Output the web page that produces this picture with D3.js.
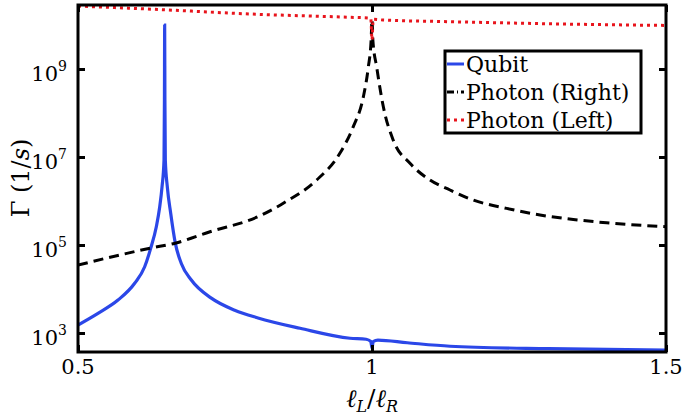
<!DOCTYPE html>
<html>
<head>
<meta charset="utf-8">
<script src="https://cdnjs.cloudflare.com/ajax/libs/d3/7.8.5/d3.min.js"></script>
<style>
  body { margin: 0; background: #fff; }
  svg text { fill: #000; }
</style>
</head>
<body>
<div id="chart"></div>
<script>
// ratio l_L / l_R and decay rates (1/s)
const qubitX = [0.5, 0.534, 0.568, 0.5964, 0.6134, 0.6236, 0.6332, 0.639, 0.6429, 0.6463, 0.647, 0.6474,
    0.6478, 0.6485, 0.6519, 0.6577, 0.6655, 0.6757, 0.6927, 0.7267, 0.7665, 0.8061, 0.8776, 0.9626,
    0.99, 0.998, 1.0, 1.002, 1.01, 1.06, 1.1327, 1.3, 1.5];
const qubitG = [1.52e3, 2.8e3, 5.6e3, 1.35e4, 3.2e4, 8.4e4, 2.6e5, 7.4e5, 2.1e6, 8.5e6, 2e8, 1e10,
    2e8, 8.5e6, 2.1e6, 5.2e5, 1.1e5, 3.8e4, 1.6e4, 6.2e3, 3.3e3, 2.2e3, 1.28e3, 760,
    720, 640, 450, 640, 690, 600, 500, 440, 410];

const photonRightX = [0.5, 0.6236, 0.665, 0.7245, 0.8061, 0.8491, 0.906, 0.9456, 0.9682, 0.9852, 0.9937,
    0.9985, 1.0, 1.0015, 1.008, 1.0192, 1.0362, 1.0646, 1.0986, 1.1327, 1.1723, 1.229, 1.2857, 1.3423,
    1.399, 1.5];
const photonRightG = [3.5e4, 8.5e4, 1.1e5, 2.0e5, 4.4e5, 8.9e5, 3.0e6, 1.23e7, 4.9e7, 2.3e8, 1.1e9,
    4.5e9, 1.3e10, 4.5e9, 1.1e9, 1.4e8, 2.4e7, 7.2e6, 3.0e6, 1.78e6, 1.05e6, 6.8e5, 4.8e5, 3.8e5,
    3.2e5, 2.6e5];

const photonLeftX = [0.5, 0.653, 0.7925, 0.9626, 0.993, 0.998, 1.0, 1.002, 1.0187, 1.1327, 1.44, 1.5];
const photonLeftG = [2.7e10, 2.2e10, 1.78e10, 1.5e10, 1.45e10, 1.4e10, 4.6e9, 1.35e10, 1.3e10, 1.19e10, 1.0e10, 9.8e9];

const xTicks = [0.5, 1, 1.5];
const xTickLabels = ["0.5", "1", "1.5"];
const yTickExps = [3, 5, 7, 9];

const legendNames = ["Qubit", "Photon (Right)", "Photon (Left)"];

const W = 685, H = 416;
const margin = { left: 78, right: 19, top: 5, bottom: 64 };
const serif = '"DejaVu Serif", serif';

const svg = d3.select("#chart").append("svg")
    .attr("width", W)
    .attr("height", H)
    .attr("font-family", serif);

const x = d3.scaleLinear().domain([0.5, 1.5]).range([margin.left, W - margin.right]);
const y = d3.scaleLog().domain([Math.pow(10, 2.568), Math.pow(10, 10.455)]).range([H - margin.bottom, margin.top]);

svg.append("defs").append("clipPath").attr("id", "plot")
    .append("rect")
    .attr("x", margin.left).attr("y", margin.top)
    .attr("width", W - margin.left - margin.right)
    .attr("height", H - margin.top - margin.bottom);

const series = [
    { xs: qubitX, gs: qubitG, color: "#2b47e8", dash: null, width: 3.2 },
    { xs: photonRightX, gs: photonRightG, color: "#000", dash: "10,6", width: 3 },
    { xs: photonLeftX, gs: photonLeftG, color: "#e8141c", dash: "3,4", width: 3 }
];

const line = d3.line()
    .x(d => x(d[0]))
    .y(d => y(d[1]))
    .curve(d3.curveMonotoneX);

const g = svg.append("g").attr("clip-path", "url(#plot)");
series.forEach(s => {
    g.append("path")
        .datum(s.xs.map((v, i) => [v, s.gs[i]]))
        .attr("fill", "none")
        .attr("stroke", s.color)
        .attr("stroke-width", s.width)
        .attr("stroke-dasharray", s.dash)
        .attr("d", line);
});

// axes: ticks inside on all four sides
const yTickVals = yTickExps.map(e => Math.pow(10, e));
svg.append("g")
    .attr("transform", "translate(" + margin.left + ",0)")
    .call(d3.axisRight(y).tickValues(yTickVals).tickSize(7).tickFormat(""));
svg.append("g")
    .attr("transform", "translate(" + (W - margin.right) + ",0)")
    .call(d3.axisLeft(y).tickValues(yTickVals).tickSize(7).tickFormat(""));
svg.append("g")
    .attr("transform", "translate(0," + (H - margin.bottom) + ")")
    .call(d3.axisTop(x).tickValues(xTicks).tickSize(7).tickFormat(""));
svg.append("g")
    .attr("transform", "translate(0," + margin.top + ")")
    .call(d3.axisBottom(x).tickValues(xTicks).tickSize(7).tickFormat(""));
svg.selectAll(".domain").remove();
svg.selectAll(".tick line").attr("stroke", "#000").attr("stroke-width", 3);

svg.append("rect")
    .attr("x", margin.left).attr("y", margin.top)
    .attr("width", W - margin.left - margin.right)
    .attr("height", H - margin.top - margin.bottom)
    .attr("fill", "none")
    .attr("stroke", "#000")
    .attr("stroke-width", 3);

// tick labels
xTicks.forEach((t, i) => {
    svg.append("text")
        .attr("x", x(t))
        .attr("y", H - margin.bottom + 22)
        .attr("text-anchor", "middle")
        .attr("font-family", serif)
        .style("font-size", "21px")
        .text(xTickLabels[i]);
});
yTickExps.forEach(e => {
    const t = svg.append("text")
        .attr("x", 67)
        .attr("y", y(Math.pow(10, e)) + 12)
        .attr("text-anchor", "end")
        .attr("font-family", serif)
        .style("font-size", "21px");
    t.append("tspan").text("10");
    t.append("tspan").attr("dy", -10).style("font-size", "14px").text(e);
});

// axis titles
const xl = svg.append("text")
    .attr("x", x(1))
    .attr("y", 407)
    .attr("text-anchor", "middle")
    .attr("font-family", serif)
    .style("font-size", "25px");
xl.append("tspan").style("font-style", "italic").text("ℓ");
xl.append("tspan").attr("dy", 5).style("font-size", "16px").style("font-style", "italic").text("L");
xl.append("tspan").attr("dy", -5).text("/");
xl.append("tspan").style("font-style", "italic").text("ℓ");
xl.append("tspan").attr("dy", 5).style("font-size", "16px").style("font-style", "italic").text("R");

const yl = svg.append("text")
    .attr("transform", "translate(29," + 178 + ") rotate(-90)")
    .attr("text-anchor", "middle")
    .attr("font-family", serif)
    .style("font-size", "24px");
yl.append("tspan").text("Γ (1/");
yl.append("tspan").style("font-style", "italic").text("s");
yl.append("tspan").text(")");

// legend
const lg = svg.append("g");
lg.append("rect")
    .attr("x", 445).attr("y", 51)
    .attr("width", 196).attr("height", 82)
    .attr("fill", "#fff")
    .attr("stroke", "#000")
    .attr("stroke-width", 3);
legendNames.forEach((name, i) => {
    const cy = 64 + i * 28;
    lg.append("line")
        .attr("x1", 447).attr("x2", 464)
        .attr("y1", cy).attr("y2", cy)
        .attr("stroke", series[i].color)
        .attr("stroke-width", 3)
        .attr("stroke-dasharray", i === 1 ? "7,3,1,3" : (i === 2 ? "3,4" : null));
    lg.append("text")
        .attr("x", 466)
        .attr("y", cy + 8)
        .attr("font-family", serif)
        .style("font-size", "22px")
        .text(name);
});
</script>
</body>
</html>
